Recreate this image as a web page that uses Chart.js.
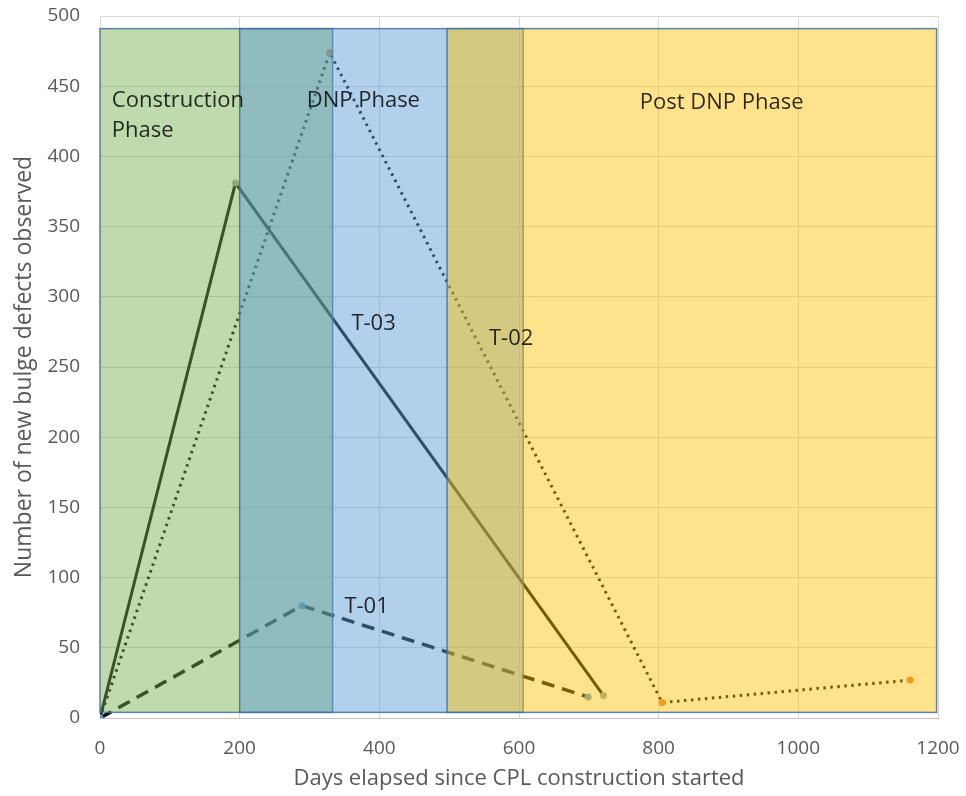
<!DOCTYPE html>
<html>
<head>
<meta charset="utf-8">
<script src="https://cdn.jsdelivr.net/npm/chart.js@4"></script>
<style>
  html, body { margin: 0; padding: 0; background: #fff; }
  #wrap { width: 966px; height: 796px; }
</style>
</head>
<body>
<div id="wrap"><canvas id="defectChart" width="966" height="796"></canvas></div>
<script>
// data
const t01Days = [0, 289, 699];
const t01Defects = [0, 80, 15];
const t02Days = [0, 329, 805, 1160];
const t02Defects = [0, 474, 11, 27];
const t03Days = [0, 194, 721];
const t03Defects = [0, 381, 16];

const xTicks = [0, 200, 400, 600, 800, 1000, 1200];
const yTicks = [0, 50, 100, 150, 200, 250, 300, 350, 400, 450, 500];

const phaseNames = ["Construction", "DNP Phase", "Post DNP Phase"];
const phaseStart = [0, 200, 497];
const phaseEnd = [333, 606, 1198];

function toPoints(days, defects) {
  return days.map((d, i) => ({ x: d, y: defects[i] }));
}

Chart.defaults.font.family = "Open Sans";

const phaseFills = [
  "rgba(112, 173, 71, 0.45)",
  "rgba(91, 155, 213, 0.47)",
  "rgba(255, 192, 0, 0.45)",
];

const phasePlugin = {
  id: "phases",
  afterDatasetsDraw(chart) {
    const { ctx, scales } = chart;
    const x = scales.x;
    const y = scales.y;
    ctx.save();

    const top = y.getPixelForValue(491);
    const bottom = y.getPixelForValue(4);
    for (let i = 0; i < phaseStart.length; i++) {
      const left = x.getPixelForValue(phaseStart[i]);
      const right = x.getPixelForValue(phaseEnd[i]);
      ctx.fillStyle = phaseFills[i];
      ctx.fillRect(left, top, right - left, bottom - top);
      ctx.strokeStyle = "rgba(65, 113, 156, 0.85)";
      ctx.lineWidth = 1.5;
      ctx.strokeRect(left, top, right - left, bottom - top);
    }

    // labels on top, slightly see-through so they keep some tint
    ctx.fillStyle = "rgba(0, 0, 0, 0.82)";
    ctx.font = '22px "Open Sans"';
    ctx.textAlign = "left";
    ctx.textBaseline = "middle";
    ctx.fillText(phaseNames[0], x.getPixelForValue(17), y.getPixelForValue(440));
    ctx.fillText("Phase", x.getPixelForValue(17), y.getPixelForValue(418));
    ctx.fillText(phaseNames[1], x.getPixelForValue(296), y.getPixelForValue(440));
    ctx.fillText(phaseNames[2], x.getPixelForValue(773), y.getPixelForValue(438));
    ctx.fillText("T-03", x.getPixelForValue(360), y.getPixelForValue(281));
    ctx.fillText("T-02", x.getPixelForValue(557), y.getPixelForValue(270));
    ctx.fillText("T-01", x.getPixelForValue(350), y.getPixelForValue(79));
    ctx.restore();
  },
};

new Chart(document.getElementById("defectChart"), {
  type: "scatter",
  data: {
    datasets: [
      {
        label: "T-01",
        data: toPoints(t01Days, t01Defects),
        showLine: true,
        borderColor: "#0a0a0a",
        borderWidth: 3.5,
        borderDash: [13, 8],
        pointRadius: 3.5,
        pointBackgroundColor: "#5b9bd5",
        pointBorderWidth: 0,
      },
      {
        label: "T-02",
        data: toPoints(t02Days, t02Defects),
        showLine: true,
        borderColor: "#0a0a0a",
        borderWidth: 3,
        borderDash: [2.5, 4.5],
        pointRadius: 3.5,
        pointBackgroundColor: "#ed7d31",
        pointBorderWidth: 0,
      },
      {
        label: "T-03",
        data: toPoints(t03Days, t03Defects),
        showLine: true,
        borderColor: "#0a0a0a",
        borderWidth: 3,
        pointRadius: 3.5,
        pointBackgroundColor: "#a5a5a5",
        pointBorderWidth: 0,
      },
    ],
  },
  options: {
    responsive: false,
    animation: false,
    layout: {
      padding: { left: 0, right: 28, top: 16, bottom: 0 },
    },
    scales: {
      x: {
        type: "linear",
        min: 0,
        max: 1200,
        afterBuildTicks: (scale) => {
          scale.ticks = xTicks.map((v) => ({ value: v }));
        },
        afterFit: (scale) => {
          scale.height = 78;
          scale.paddingLeft = 0;
          scale.paddingRight = 0;
        },
        grid: {
          color: "#d9d9d9",
          drawTicks: false,
        },
        border: {
          display: true,
          color: "#bfbfbf",
        },
        ticks: {
          color: "#595959",
          font: { size: 19 },
          padding: 19,
          callback: (v) => String(v),
        },
        title: {
          display: true,
          text: "Days elapsed since CPL construction started",
          color: "#595959",
          font: { size: 22 },
          padding: { top: 0, bottom: 4 },
        },
      },
      y: {
        min: 0,
        max: 500,
        afterBuildTicks: (scale) => {
          scale.ticks = yTicks.map((v) => ({ value: v }));
        },
        afterFit: (scale) => {
          scale.width = 100;
          scale.paddingTop = 0;
          scale.paddingBottom = 0;
        },
        grid: {
          color: "#d9d9d9",
          drawTicks: false,
        },
        border: {
          display: false,
        },
        ticks: {
          color: "#595959",
          font: { size: 19 },
          padding: 20,
        },
        title: {
          display: true,
          text: "Number of new bulge defects observed",
          color: "#595959",
          font: { size: 23 },
          padding: { top: 11, bottom: 0 },
        },
      },
    },
    plugins: {
      legend: { display: false },
      tooltip: { enabled: false },
    },
  },
  plugins: [phasePlugin],
});
</script>
</body>
</html>
